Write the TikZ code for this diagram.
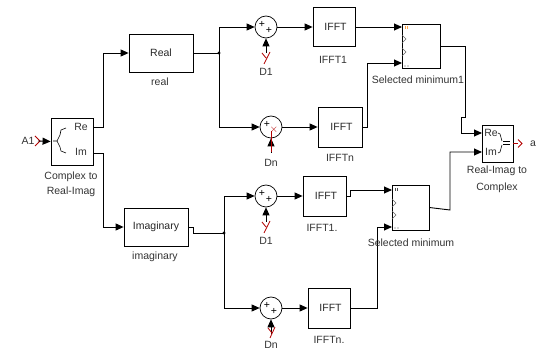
\documentclass[tikz,border=0pt]{standalone}
\usepackage{fontspec}
\setmainfont{Liberation Sans}
\usetikzlibrary{arrows.meta}
\begin{document}
\begin{tikzpicture}[x=1pt,y=-1pt,
 blk/.style={draw, line width=0.8pt, inner sep=0pt, text=black!85, font=\fontsize{10.5}{12}\selectfont},
 sumblk/.style={draw, circle, minimum size=22pt, inner sep=0pt, line width=0.7pt},
 lbl/.style={font=\fontsize{10.5}{12}\selectfont, text=black!80, inner sep=0pt},
 sgn/.style={font=\fontsize{10.5}{10}\selectfont, inner sep=0pt},
 sig/.style={line width=0.9pt, -{Triangle[length=8pt,width=7pt]}},
 wire/.style={line width=0.9pt},
 port/.style={draw=red!70!black, line width=0.8pt},
 chev/.style={draw=black!60, line width=0.6pt}]
\useasboundingbox (0,0) rectangle (542,350);

% blocks
\node[blk, minimum width=42pt, minimum height=47pt] (comp) at (72,141.5) {};
\node[blk, minimum width=64pt, minimum height=38pt] (real) at (161,53) {Real};
\node[blk, minimum width=64pt, minimum height=38pt] (imag) at (156,227) {Imaginary};
\node[blk, minimum width=42pt, minimum height=39pt] (ifftA) at (334,27) {\hspace*{3pt}IFFT};
\node[blk, minimum width=44pt, minimum height=40pt] (ifftB) at (340,127) {\hspace*{3pt}IFFT};
\node[blk, minimum width=43pt, minimum height=40pt] (ifftC) at (324.5,196) {\hspace*{3pt}IFFT};
\node[blk, minimum width=42pt, minimum height=40pt] (ifftD) at (329,308) {\hspace*{3pt}IFFT};
\node[blk, minimum width=38pt, minimum height=44pt] (selA) at (421,46) {};
\node[blk, minimum width=37pt, minimum height=45pt] (selB) at (410.5,207.5) {};
\node[blk, minimum width=31pt, minimum height=37pt] (r2c) at (497.5,143.5) {};

% sums
\node[sumblk] (sA) at (266,27) {};
\node[sumblk] (sB) at (271,127) {};
\node[sumblk] (sC) at (266,196) {};
\node[sumblk] (sD) at (271,308) {};
\foreach \s in {sA,sB,sC,sD}{
  \node[sgn] (\s p1) at ([shift={(-4,-3)}]\s.center) {+};
}
\node[sgn] (sAp2) at ([shift={(3,3)}]sA.center) {+};
\node[sgn, text=red!70!black] (sBp2) at ([shift={(3,3)}]sB.center) {$\times$};
\node[sgn] (sCp2) at ([shift={(3,3)}]sC.center) {+};
\node[sgn] (sDp2) at ([shift={(3,3)}]sD.center) {+};

% complex to real-imag inner
\node[lbl] (cre) at (81,127) {Re};
\node[lbl] (cim) at (81,152) {Im};
\draw[line width=0.6pt] (53,141) -- (57,141) -- (60,135) -- (61,130) -- (66,128);
\draw[line width=0.6pt] (57,141) -- (60,147) -- (61,151) -- (66,153);
% real-imag to complex inner
\node[lbl] (rre) at (491,133) {Re};
\node[lbl] (rim) at (491,152) {Im};
\draw[line width=0.6pt] (498,133) -- (500,134) -- (502,141);
\draw[line width=0.6pt] (498,153) -- (500,152) -- (502,145);
\draw[line width=0.6pt] (503,141.5) -- (510,141.5);
\draw[line width=0.6pt] (503,144.5) -- (510,144.5);

% selector marks
\foreach \y in {39,52}{\draw[chev] (402,\y-4) -- (406,\y) -- (402,\y+4);}
\foreach \y in {203,215}{\draw[chev] (392,\y-4) -- (396,\y) -- (392,\y+4);}
\draw[orange!70, line width=0.5pt] (405,26) -- (405,29) (407,26) -- (407,29);
\draw[black!70, line width=0.5pt] (395,188) -- (395,191) (397,188) -- (397,191);
\fill[black!70] (405,66) circle (0.6) (408,66) circle (0.6) (395,228) circle (0.6) (398,228) circle (0.6);

% input A1
\node[lbl] (a1) at (28,141) {A1};
\coordinate (a1p) at (38,141);
\draw[port] (35,136) -- (40,141) -- (35,146);
\draw[sig] (a1p) -- (comp.west);

% output a
\node[lbl] (aout) at (533,144) {a};
\coordinate (ap) at (518,143.5);
\draw[port] (r2c.east |- ap) -- (ap);
\draw[port] (518,139.5) -- (522,143.5) -- (518,147.5);

% junctions
\coordinate (jR) at (219,53);
\coordinate (jI) at (224,233);
\fill (jR) circle (1.6);
\fill (jI) circle (1.6);

% wires
\draw[sig] (93,127) -- (103,127) -- (103,53) -- (real.west);
\draw[sig] (93,153) -- (103,153) -- (103,227) -- (imag.west);
\draw[wire] (real.east) -- (jR);
\draw[sig] (jR) -- (219,27) -- (sA.west);
\draw[sig] (jR) -- (219,127) -- (sB.west);
\draw[sig] (sA.east) -- (ifftA.west);
\draw[sig] (sB.east) -- (ifftB.west);
\draw[sig] (ifftA.east) -- (402,27);
\draw[sig] (ifftB.east) -- (367,127) -- (367,63) -- (402,63);
\draw[sig] (selA.east) -- (465,46) -- (465,117) -- (461,117) -- (461,133) -- (482,133);

\draw[wire] (imag.east) -- (193,227) -- (193,233) -- (jI);
\draw[sig] (jI) -- (224,196) -- (sC.west);
\draw[sig] (jI) -- (224,308) -- (sD.west);
\draw[sig] (sC.east) -- (ifftC.west);
\draw[sig] (sD.east) -- (ifftD.west);
\draw[sig] (ifftC.east) -- (350,196) -- (350,190) -- (392,190);
\draw[sig] (ifftD.east) -- (377,308) -- (377,227) -- (392,227);
\draw[sig] (selB.east) -- (450,210) -- (450,152) -- (482,152);

% D inputs
\draw[sig] (266,53) -- (sA.south);
\draw[port] (262,53) -- (266,58) (270,52) -- (264,64);
\draw[sig] (271,153) -- (sB.south);
\draw[port] (271,152) -- (271,131);
\draw[sig] (266,222) -- (sC.south);
\draw[port] (262,222) -- (266,227) (270,221) -- (264,233);
\draw[sig] (271,334) -- (sD.south);
\draw[port] (268,328) -- (272,333) (275,327) -- (270,338);

% labels
\node[lbl] (lc1) at (71,177) {Complex to};
\node[lbl] (lc2) at (71,192) {Real-Imag};
\node[lbl] (lreal) at (160,82) {real};
\node[lbl] (limag) at (155,257) {imaginary};
\node[lbl] (ld1) at (266,72) {D1};
\node[lbl] (ldn) at (271,163) {Dn};
\node[lbl] (li1) at (333,60) {IFFT1};
\node[lbl] (lin) at (340,158) {IFFTn};
\node[lbl] (lsa) at (418,80) {Selected minimum1};
\node[lbl] (ld1b) at (266,241) {D1};
\node[lbl] (li1b) at (322,228) {IFFT1.};
\node[lbl] (lsb) at (411,243) {Selected minimum};
\node[lbl] (linb) at (329,340) {IFFTn.};
\node[lbl] (ldnb) at (271,345) {Dn};
\node[lbl] (lr1) at (497,171) {Real-Imag to};
\node[lbl] (lr2) at (497,188) {Complex};
\end{tikzpicture}
\end{document}
